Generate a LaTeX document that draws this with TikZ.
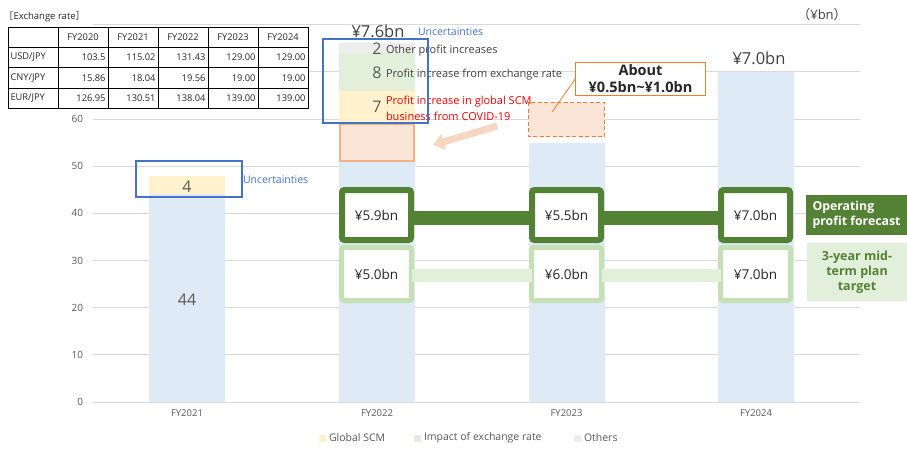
\documentclass[tikz,border=0pt]{standalone}
\usepackage{fontspec}
\setmainfont{Open Sans}
\newfontfamily\cjk{Noto Sans CJK JP}
\usetikzlibrary{arrows.meta}
\definecolor{barblue}{HTML}{DEEAF6}
\definecolor{baryel}{HTML}{FFF2CC}
\definecolor{bargrn}{HTML}{E2EFDA}
\definecolor{bargry}{HTML}{EDEDED}
\definecolor{orfill}{HTML}{FBE5D6}
\definecolor{orline}{HTML}{F4B183}
\definecolor{ordark}{HTML}{ED7D31}
\definecolor{unblue}{HTML}{4472C4}
\definecolor{dkgreen}{HTML}{548235}
\definecolor{ltgreen}{HTML}{C5E0B4}
\definecolor{gridc}{HTML}{D9D9D9}
\definecolor{txtg}{HTML}{595959}
\definecolor{txtd}{HTML}{404040}
\definecolor{arrowc}{HTML}{F8D7C0}
\begin{document}
\begin{tikzpicture}[x=1pt,y=-1pt,
  every node/.style={inner sep=0pt,outer sep=0pt},
  grid/.style={draw=gridc,line width=0.9},
  tick/.style={font=\fontsize{10}{12}\selectfont,text=txtg,anchor=east},
  xlab/.style={font=\fontsize{9.5}{11}\selectfont,text=txtg},
  big/.style={font=\fontsize{16}{18}\selectfont,text=txtg},
  note/.style={font=\fontsize{11}{13}\selectfont,text=txtd,anchor=west},
  unc/.style={draw=unblue,line width=1.1},
  unctext/.style={font=\fontsize{10.5}{12}\selectfont,text=unblue},
  opbox/.style={draw=dkgreen,fill=white,line width=6,rounded corners=2.5,minimum width=69,minimum height=50,font=\fontsize{13.5}{15}\selectfont,text=black!85},
  plbox/.style={draw=ltgreen,fill=white,line width=5,rounded corners=2.5,minimum width=70,minimum height=53,font=\fontsize{13.5}{15}\selectfont,text=black!85},
  cell/.style={font=\fontsize{9.3}{11}\selectfont,text=black!85},
  legend/.style={font=\fontsize{10.5}{12}\selectfont,text=txtg,anchor=west}
]
\useasboundingbox (0,0) rectangle (907,448);
\fill[white] (0,0) rectangle (907,448);
% gridlines
\foreach \v in {0,10,...,80}{
  \draw[grid] (93,{402-4.717*\v}) -- (860,{402-4.717*\v});
}
\foreach \v in {0,10,...,60}{
  \node[tick] (tk\v) at (83,{402-4.717*\v}) {\v};
}
% bars FY2021
\fill[barblue] (149,402) rectangle (225,194.4);
\fill[baryel] (149,194.4) rectangle (225,175.6);
% FY2022
\fill[barblue] (339,402) rectangle (415,161);
\fill[baryel] (339,124) rectangle (415,91);
\fill[bargrn] (339,91) rectangle (415,53);
\fill[bargry] (339,53) rectangle (415,43);
\draw[fill=orfill,draw=orline,line width=1.6] (340,161) rectangle (414,124);
% FY2023
\fill[barblue] (529,402) rectangle (605,143);
\draw[fill=orfill,draw=ordark,line width=1,dash pattern=on 4pt off 2.5pt] (528.5,102) rectangle (604.5,136.5);
% FY2024
\fill[barblue] (718,402) rectangle (794,72);
% bar labels
\node[big] (v4) at (187,186.5) {4};
\node[big] (v44) at (187,300) {44};
\node[big] (v2) at (377,49) {2};
\node[big] (v8) at (377,73) {8};
\node[big] (v7) at (377,107) {7};
\node[font=\fontsize{16.5}{18}\selectfont,text=txtd] (t76) at (378,31) {¥7.6bn};
\node[font=\fontsize{16.5}{18}\selectfont,text=txtd] (t70) at (759,58) {¥7.0bn};
\node[font=\fontsize{13}{15}\selectfont,text=txtd] (unit) at (822,15) {{\cjk （}¥bn{\cjk ）}};
% notes
\node[note] (n2) at (386,51) {Other profit increases};
\node[note] (n8) at (386,75) {Profit increase from exchange rate};
\node[note,text=red,align=left,font=\fontsize{11}{16}\selectfont] (n7) at (386,108) {Profit increase in global SCM\\business from COVID-19};
% uncertainty boxes
\draw[unc] (136,161) rectangle (242,197);
\draw[unc] (323,39) rectangle (428,123);
\node[unctext,anchor=west] (u1) at (243,180) {Uncertainties};
\node[unctext,anchor=west] (u2) at (418,32) {Uncertainties};
% arrow
\coordinate (arS) at (497,126);
\coordinate (arE) at (433,145);
\draw[arrowc,line width=7,-{Triangle[width=16,length=11]}] (arS) -- (arE);
% About box
\node[draw=ordark,fill=white,line width=1,minimum width=130,minimum height=33,align=center,font=\bfseries\fontsize{14.5}{17.5}\selectfont,text=black!85] (about) at (640.5,78.5) {About\\¥0.5bn{\char"007E}¥1.0bn};
\coordinate (dashpt) at (552,112);
\draw[ordark,line width=0.8] (about.west) -- (dashpt);
% green connectors and boxes
\node[opbox] (op22) at (376.5,215) {¥5.9bn};
\node[opbox] (op23) at (566.5,215) {¥5.5bn};
\node[opbox] (op24) at (755.5,215) {¥7.0bn};
\node[plbox] (pl22) at (376.5,274) {¥5.0bn};
\node[plbox] (pl23) at (566.5,274) {¥6.0bn};
\node[plbox] (pl24) at (755.5,274) {¥7.0bn};
\draw[dkgreen,line width=14] ([yshift=-3]op22.east) -- ([yshift=-3]op23.west);
\draw[dkgreen,line width=14] ([yshift=-3]op23.east) -- ([yshift=-3]op24.west);
\draw[bargrn,line width=13] ([yshift=-1.5]pl22.east) -- ([yshift=-1.5]pl23.west);
\draw[bargrn,line width=13] ([yshift=-1.5]pl23.east) -- ([yshift=-1.5]pl24.west);
% right labels
\node[fill=dkgreen,text=white,minimum width=101,minimum height=40,align=left,font=\bfseries\fontsize{12.3}{15}\selectfont] (oplab) at (856.5,215) {Operating\\profit forecast};
\node[fill=bargrn,text=dkgreen,minimum width=100,minimum height=58,align=center,font=\bfseries\fontsize{12.5}{15}\selectfont] (pllab) at (857,272) {3-year mid-\\term plan\\target};
% x labels
\node[xlab] (x21) at (187,413) {FY2021};
\node[xlab] (x22) at (377,413) {FY2022};
\node[xlab] (x23) at (566.5,413) {FY2023};
\node[xlab] (x24) at (756,413) {FY2024};
% legend
\fill[baryel] (319,434.5) rectangle (326,441.5);
\node[legend] (lg1) at (329,438) {Global SCM};
\fill[bargrn] (414,434.5) rectangle (421,441.5);
\node[legend] (lg2) at (424,438) {Impact of exchange rate};
\fill[bargry] (574,434.5) rectangle (581,441.5);
\node[legend] (lg3) at (584,438) {Others};
% table
\node[font=\fontsize{9.5}{11}\selectfont,text=black!85,anchor=west] (tabtitle) at (4,17) {{\cjk ［}Exchange rate{\cjk ］}};
\fill[white] (8,27) rectangle (308,108.5);
\foreach \yy in {27,47.3,67.7,88.2,108.5}{\draw[black,line width=0.8] (8,\yy) -- (308,\yy);}
\foreach \xx in {8,58,108,158,208,258,308}{\draw[black,line width=0.8] (\xx,27) -- (\xx,108.5);}
\foreach \h [count=\i] in {FY2020,FY2021,FY2022,FY2023,FY2024}{
  \node[cell] (th\i) at ({33+50*\i},37.2) {\h};
}
\foreach \r/\yy in {USD/57.5,CNY/78,EUR/98.3}{
  \node[cell,anchor=west] (tr\r) at (10.5,\yy) {\r/JPY};
}
\foreach \a/\b/\c/\d/\e/\yy/\r in {103.5/115.02/131.43/129.00/129.00/57.5/1,15.86/18.04/19.56/19.00/19.00/78/2,126.95/130.51/138.04/139.00/139.00/98.3/3}{
  \node[cell,anchor=east] (c\r a) at (105.5,\yy) {\a};
  \node[cell,anchor=east] (c\r b) at (155.5,\yy) {\b};
  \node[cell,anchor=east] (c\r c) at (205.5,\yy) {\c};
  \node[cell,anchor=east] (c\r d) at (255.5,\yy) {\d};
  \node[cell,anchor=east] (c\r e) at (305.5,\yy) {\e};
}
\end{tikzpicture}
\end{document}
